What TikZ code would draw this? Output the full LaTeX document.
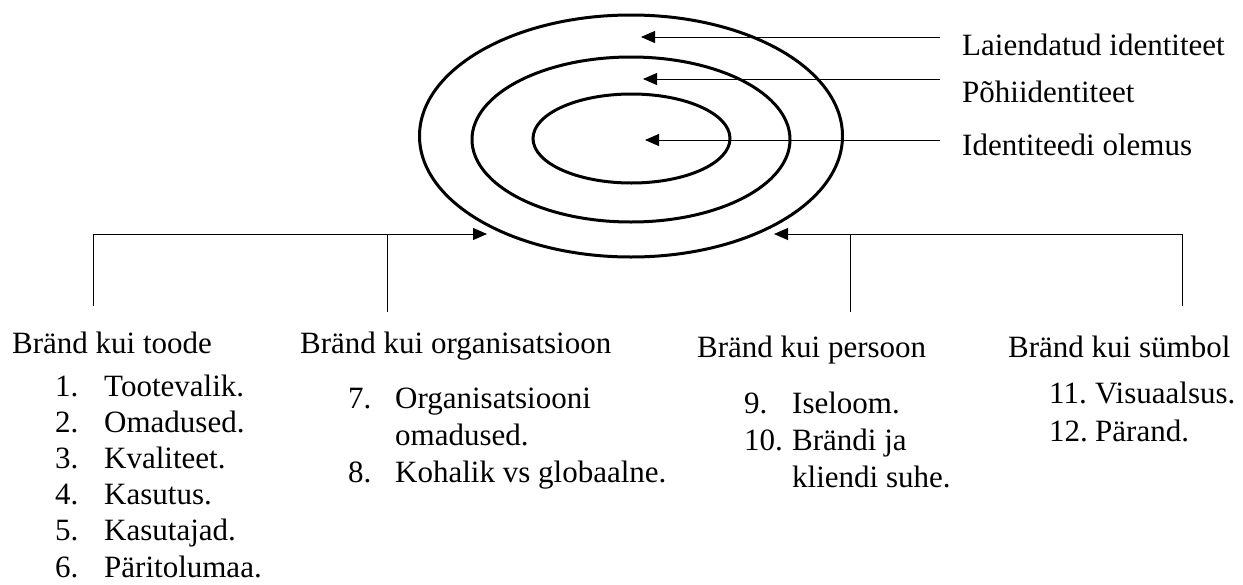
\documentclass[tikz,border=0pt]{standalone}
\usepackage{fontspec}
\setmainfont{Liberation Serif}
\usetikzlibrary{positioning,arrows.meta,shapes.geometric}
\tikzset{
	>={Triangle[length=14pt,width=12pt]}
}

\begin{document}
\begin{tikzpicture}[
x = 1pt, y = -1pt,
every node/.style = {
	font = \fontsize{31}{36}\selectfont,
	inner sep = 0pt
},
ring/.style = {
	draw,
	ellipse,
	line width = 3pt,
	inner sep = 0pt
},
pointer/.style = {
	->,
	line width = 1pt
},
lbl/.style = {
	anchor = base west
}
]
\useasboundingbox (0,0) rectangle (1243,584);

% the three identity rings
\node (outerring) [ring, minimum width=423pt, minimum height=242pt] at (631,136) {};
\node (midring) [ring, minimum width=318pt, minimum height=165pt] at (631,139.5) {};
\node (innerring) [ring, minimum width=197pt, minimum height=89pt] at (631.5,138.5) {};

% labels on the right
\node (outerlbl) [lbl] at (962,55) {Laiendatud identiteet};
\node (midlbl) [lbl] at (962,102) {Põhiidentiteet};
\node (innerlbl) [lbl] at (962,155) {Identiteedi olemus};

\coordinate (outerfrom) at (940,37);
\coordinate (outertip) at (641,37);
\coordinate (midfrom) at (940,79);
\coordinate (midtip) at (643,79);
\coordinate (innerfrom) at (940,140);
\coordinate (innertip) at (645,140);

\draw[pointer] (outerfrom) -- (outertip);
\draw[pointer] (midfrom) -- (midtip);
\draw[pointer] (innerfrom) -- (innertip);

% the four brand views
\node (toode) [lbl] at (12,353) {Bränd kui toode};
\node (organisatsioon) [lbl] at (300,353) {Bränd kui organisatsioon};
\node (persoon) [lbl] at (697,357) {Bränd kui persoon};
\node (symbol) [lbl] at (1008,357) {Bränd kui sümbol};

\coordinate (toodetop) at (93,306);
\coordinate (orgtop) at (387,312);
\coordinate (persoontop) at (850,312);
\coordinate (symboltop) at (1182,306);
\coordinate (lefttip) at (487,234);
\coordinate (righttip) at (774,234);

\draw[pointer] (toodetop) |- (lefttip);
\draw[line width=1pt] (orgtop) -- (orgtop |- lefttip);
\draw[pointer] (symboltop) |- (righttip);
\draw[line width=1pt] (persoontop) -- (persoontop |- righttip);

% lists
\foreach \n/\t [count=\i from 0] in {1/Tootevalik., 2/Omadused., 3/Kvaliteet., 4/Kasutus., 5/Kasutajad., 6/Päritolumaa.}{
	\node (toodenum\n) [lbl] at (55,396+36.2*\i) {\n.};
	\node (toodeitem\n) [lbl] at (104,396+36.2*\i) {\t};
}

\node (orgnum7) [lbl] at (348,408) {7.};
\node (orgitem7) [lbl] at (395,408) {Organisatsiooni};
\node (orgitem7b) [lbl] at (395,445) {omadused.};
\node (orgnum8) [lbl] at (348,482) {8.};
\node (orgitem8) [lbl] at (395,482) {Kohalik vs globaalne.};

\node (persnum9) [lbl] at (744,413) {9.};
\node (persitem9) [lbl] at (792,413) {Iseloom.};
\node (persnum10) [lbl] at (744,450) {10.};
\node (persitem10) [lbl] at (792,450) {Brändi ja};
\node (persitem10b) [lbl] at (792,487) {kliendi suhe.};

\node (symnum11) [lbl] at (1049,403) {11.};
\node (symitem11) [lbl] at (1095,403) {Visuaalsus.};
\node (symnum12) [lbl] at (1049,441) {12.};
\node (symitem12) [lbl] at (1095,441) {Pärand.};

\end{tikzpicture}
\end{document}
